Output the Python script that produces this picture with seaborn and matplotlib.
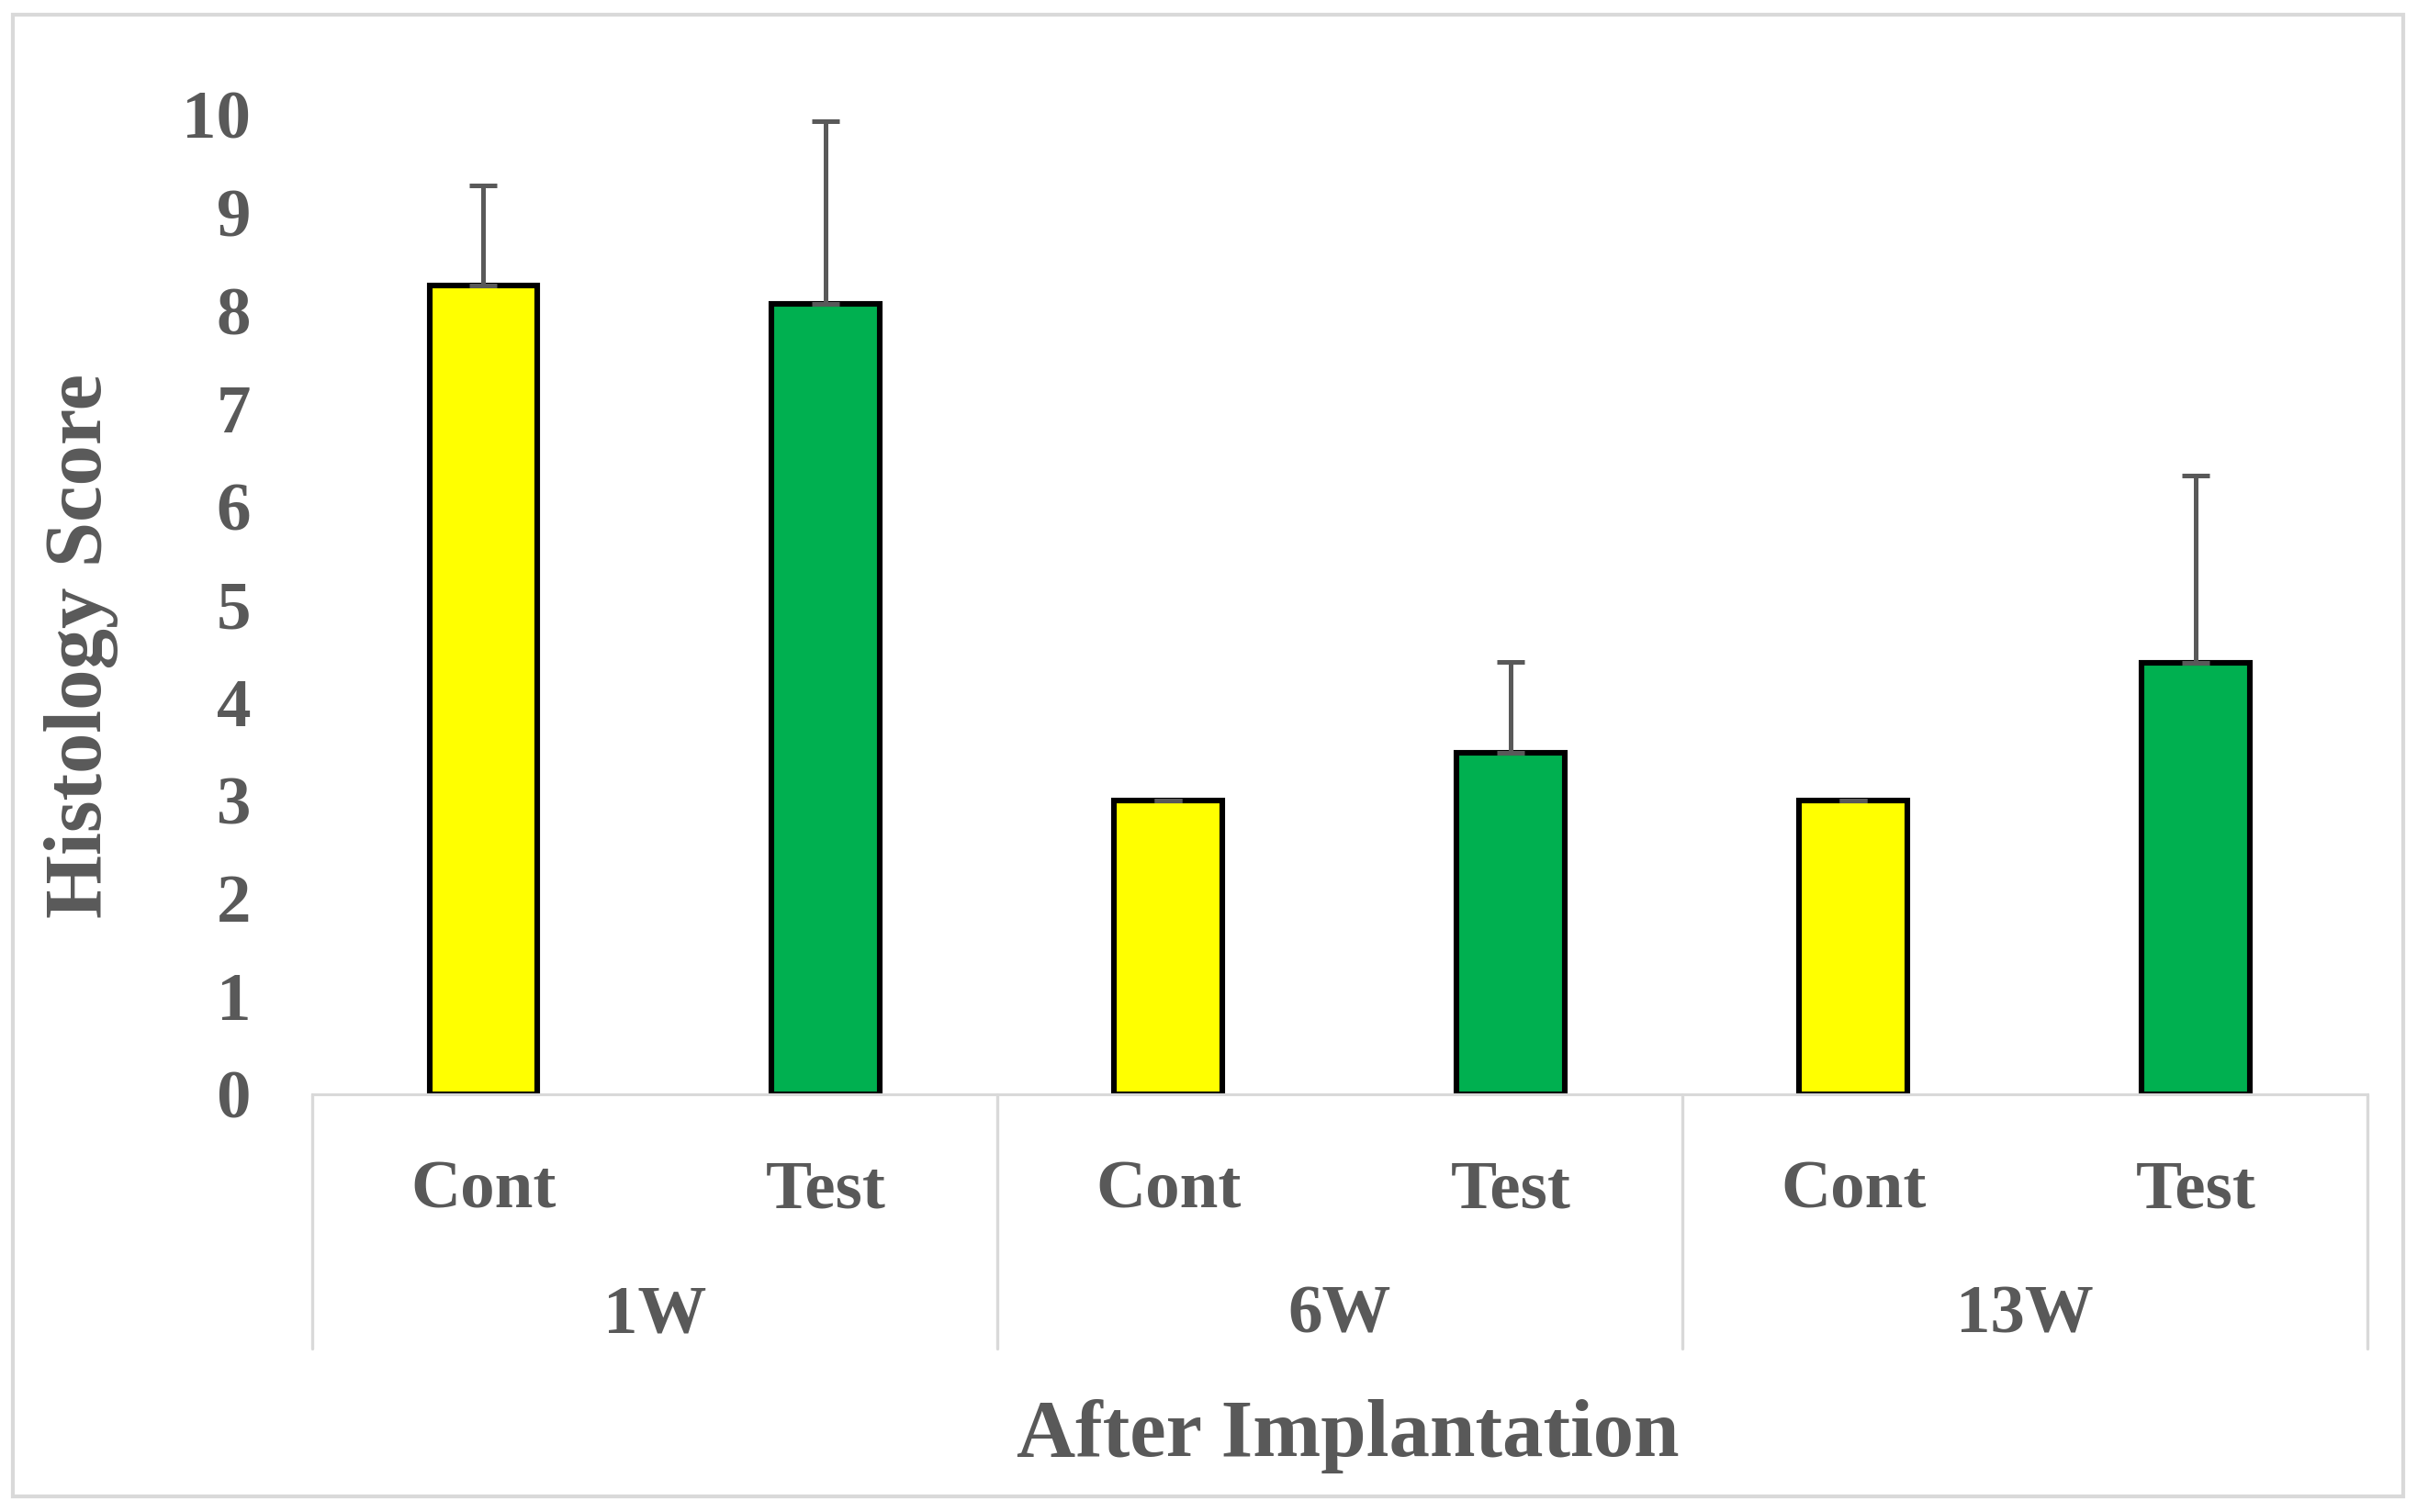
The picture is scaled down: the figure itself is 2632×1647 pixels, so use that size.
import numpy as np
import pandas as pd
import seaborn as sns
import matplotlib.pyplot as plt
import matplotlib.transforms as mtransforms
from matplotlib.patches import Rectangle

# Data
groups = ["1W", "6W", "13W"]
treatments = ["Cont", "Test"]
scores = [8.25, 8.07, 3.0, 3.48, 3.0, 4.40]
errors = [1.03, 1.86, 0.0, 0.93, 0.0, 1.91]
yticks = list(range(0, 11))

TEXT = "#595959"
GRID = "#D9D9D9"

df = pd.DataFrame({
    "group": np.repeat(groups, len(treatments)),
    "treatment": treatments * len(groups),
    "score": scores,
})
df["key"] = df["group"] + " " + df["treatment"]

sns.set_theme(style="white")
plt.rcParams["font.family"] = ["Liberation Serif", "DejaVu Serif"]
plt.rcParams["font.weight"] = "bold"

fig = plt.figure(figsize=(13.16, 8.235), dpi=200)
ax = fig.add_axes([0.1291, 0.2764, 0.8502, 0.6479])

sns.barplot(data=df, x="key", y="score", hue="treatment",
            palette={"Cont": "#FFFF00", "Test": "#00B050"}, saturation=1,
            dodge=False, width=0.315, edgecolor="black", linewidth=2.2,
            legend=False, ax=ax, zorder=2)

# upper-only error bars
xpos = np.arange(len(scores))
ax.errorbar(xpos, scores, yerr=[np.zeros(len(errors)), errors], fmt="none",
            ecolor=TEXT, elinewidth=1.8, capsize=5.4, capthick=1.8, zorder=3)

ax.set_xlim(-0.5, len(scores) - 0.5)
ax.set_ylim(0, 10)
ax.set_yticks(yticks)
ax.set_yticklabels([str(t) for t in yticks], fontsize=27, color=TEXT, fontweight="bold")
ax.tick_params(axis="y", length=0, pad=24)
ax.set_xticks([])
ax.set_xlabel("")
ax.set_ylabel("")
for s in ["top", "right", "left"]:
    ax.spines[s].set_visible(False)
ax.spines["bottom"].set_color(GRID)
ax.spines["bottom"].set_linewidth(1.1)

trans = mtransforms.blended_transform_factory(ax.transData, ax.transAxes)

# treatment labels
for i, t in enumerate(df["treatment"]):
    ax.text(i, -0.1157, t, transform=trans, ha="center", va="baseline",
            fontsize=27, color=TEXT, fontweight="bold")

# group labels and separators
n = len(treatments)
for j, g in enumerate(groups):
    ax.text(j * n + (n - 1) / 2, -0.2436, g, transform=trans, ha="center",
            va="baseline", fontsize=27, color=TEXT, fontweight="bold")
for j in range(len(groups) + 1):
    xs = j * n - 0.5
    ax.plot([xs, xs], [0, -0.2596], transform=trans, color=GRID,
            linewidth=1.2, clip_on=False)

ax.text(0.504, -0.369, "After Implantation", transform=ax.transAxes,
        ha="center", va="baseline", fontsize=32, color=TEXT, fontweight="bold")
fig.text(0.0335, 0.5728, "Histology Score", rotation=90, ha="center",
         va="center", fontsize=32, color=TEXT, fontweight="bold")

# chart area border
fig.patches.append(Rectangle((0.0053, 0.0103), 0.989, 0.98, transform=fig.transFigure,
                             fill=False, edgecolor=GRID, linewidth=1.5))

fig.savefig("out.png", dpi=200, facecolor="white")
